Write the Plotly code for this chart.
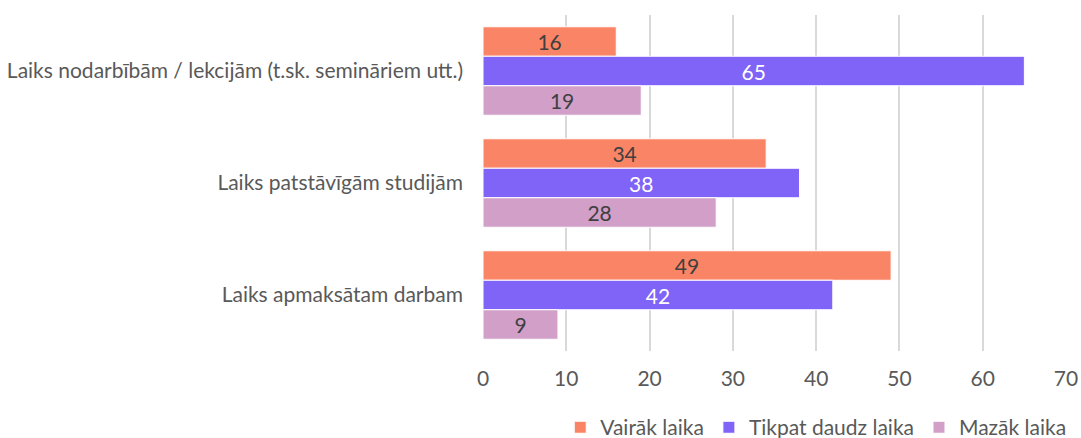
import plotly.graph_objects as go

categories = ["Laiks nodarbībām / lekcijām (t.sk. semināriem utt.)",
              "Laiks patstāvīgām studijām",
              "Laiks apmaksātam darbam"]
series_names = ["Vairāk laika", "Tikpat daudz laika", "Mazāk laika"]
vairak = [16, 34, 49]
tikpat = [65, 38, 42]
mazak = [19, 28, 9]
colors = ["#FA8466", "#8063F7", "#D19FC8"]
text_colors = ["#404040", "#FFFFFF", "#404040"]
x_ticks = [0, 10, 20, 30, 40, 50, 60, 70]

font = "Lato, sans-serif"
fs = 21
fig = go.Figure()
for name, vals, c, tc in zip(series_names, [vairak, tikpat, mazak], colors, text_colors):
    fig.add_trace(go.Bar(
        y=categories, x=vals, name=name, orientation="h",
        marker=dict(color=c, line=dict(color="white", width=1)),
        text=[str(v) for v in vals], textposition="inside",
        insidetextanchor="middle", textangle=0,
        textfont=dict(color=tc, size=fs, family=font),
        constraintext="none",
    ))

fig.update_layout(
    barmode="group", bargap=0.21, bargroupgap=0.0,
    width=1081, height=438,
    margin=dict(l=483, r=15, t=15, b=87, autoexpand=False),
    plot_bgcolor="white", paper_bgcolor="white",
    font=dict(family=font, size=fs, color="#595959"),
    uniformtext=dict(mode=False),
    legend=dict(orientation="h", x=1.009, xanchor="right", y=-0.167, yanchor="top",
                font=dict(size=fs, color="#595959"), itemwidth=30,
                traceorder="normal"),
    xaxis=dict(range=[0, 70], tickvals=x_ticks, showgrid=True, gridcolor="#D9D9D9",
               gridwidth=2, zeroline=False, showline=False, ticks="",
               ticklabelstandoff=13,
               tickfont=dict(size=fs, color="#595959"), fixedrange=True),
    yaxis=dict(autorange="reversed", showgrid=False, ticks="", showline=False,
               ticklabelstandoff=19,
               tickfont=dict(size=fs, color="#595959")),
)
fig.write_html("out.html", config={"displayModeBar": False},
               post_script="document.body.style.margin='0';")
